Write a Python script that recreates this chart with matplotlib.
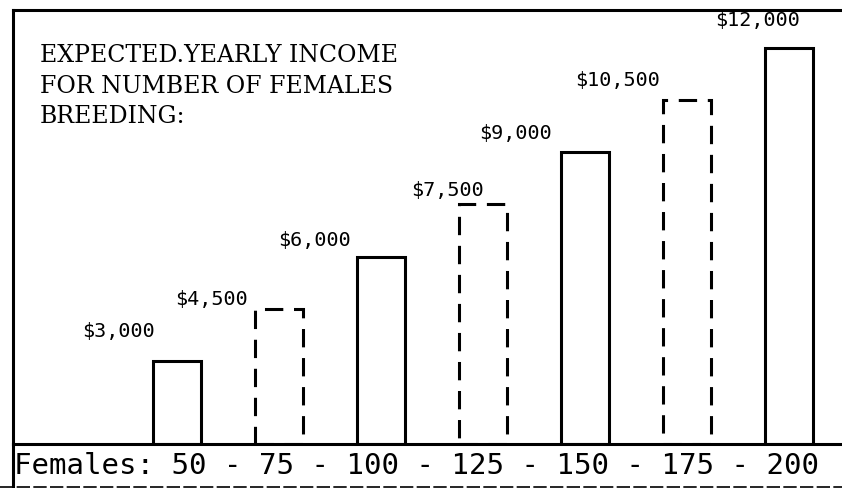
import matplotlib
matplotlib.use("Agg")
import matplotlib.pyplot as plt

females = [50, 75, 100, 125, 150, 175, 200]
income = [3000, 4500, 6000, 7500, 9000, 10500, 12000]
labels = ["$3,000", "$4,500", "$6,000", "$7,500", "$9,000", "$10,500", "$12,000"]
dashed = [False, True, False, True, False, True, False]
title_lines = ["EXPECTED.YEARLY INCOME", "FOR NUMBER OF FEMALES", "BREEDING:"]

W, H = 842, 488
fig = plt.figure(figsize=(W / 100, H / 100), dpi=100)
fig.patch.set_facecolor("white")

# axes: left frame x=13, top y=10, baseline y=444
ax = fig.add_axes([13 / W, (H - 444) / H, (W - 13) / W, (444 - 10) / H])
ax.set_xlim(-1.608, 6.52)
ax.set_ylim(600, 13100)

xs = list(range(len(females)))
for x, v, d in zip(xs, income, dashed):
    ax.bar(x, v - 600, bottom=600, width=0.47, fill=False, edgecolor="black",
           linewidth=2.2, linestyle=(0, (6, 3.5)) if d else "-")

# label offsets in pixels (hand placement as in the original)
label_dx = [-59, -67, -66, -35, -69, -69, -31]
label_dy = [29, 9, 16, 14, 19, 20, 28]
for x, v, lab, dx, dy in zip(xs, income, labels, label_dx, label_dy):
    ax.annotate(lab, (x, v), xytext=(dx * 0.72, dy * 0.72), textcoords="offset points",
                ha="center", va="center", fontsize=14.5, family="DejaVu Sans Mono",
                color="black")

ax.text(27 / 829, (444 - 44) / 434, "\n".join(title_lines), transform=ax.transAxes,
        ha="left", va="top", fontsize=17, family="DejaVu Serif",
        linespacing=1.42, color="black")

ax.set_xticks([])
ax.set_yticks([])
for s in ["left", "top", "bottom"]:
    ax.spines[s].set_linewidth(2.2)
ax.spines["right"].set_visible(False)

# bottom strip with the category row
fig.add_artist(plt.Line2D([13 / W, 13 / W], [0, (H - 444) / H], color="black", lw=2.2))
fig.add_artist(plt.Line2D([0, 1], [1.5 / H, 1.5 / H], color="black", lw=1.2,
                          linestyle=(0, (8, 2))))
row = "Females: " + " - ".join(str(f) for f in females)
fig.text(14 / W, (H - 466) / H, row, ha="left", va="center", fontsize=21,
         family="DejaVu Sans Mono", color="black")

fig.savefig("out.png", dpi=100, facecolor="white")
